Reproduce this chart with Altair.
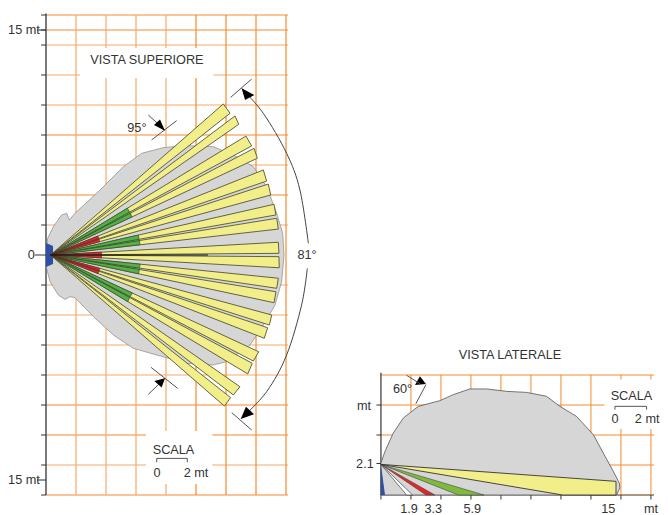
import altair as alt
import pandas as pd

# ---- all values in metres; the two views share one 15 px/m scale ----
APEX = (0.3, 0.0)
BEAM_ENDS = [
    (11.82, 10.07, 12.27, 9.45), (12.6, 9.27, 12.85, 8.71),
    (13.33, 7.93, 13.71, 7.27), (13.87, 7.11, 14.09, 6.45),
    (14.49, 5.67, 14.71, 4.93), (14.82, 4.73, 14.98, 4.0),
    (15.2, 3.38, 15.33, 2.67), (15.38, 2.45, 15.49, 1.73),
    (15.49, 0.85, 15.53, 0.11), (15.53, -0.11, 15.55, -0.85),
    (15.49, -1.55, 15.38, -2.22), (15.33, -2.45, 15.2, -3.18),
    (15.05, -4.0, 14.89, -4.67), (14.78, -4.85, 14.55, -5.55),
    (14.18, -6.45, 13.82, -7.07), (13.75, -7.22, 13.45, -7.93),
    (12.93, -8.78, 12.49, -9.33), (12.31, -9.51, 11.89, -10.07),
]
GREEN_BEAMS = [2, 3, 6, 7, 10, 11, 14, 15]
RED_BEAMS = [4, 5, 8, 9, 12, 13]
GREEN_RANGE = 6.0
RED_RANGE = 3.4
CENTRE_LINE = [APEX, (10.8, 0)]

TOP_BLOB = [
    (0.04, 0.11), (0.11, 1.11), (0.49, 1.89), (1.04, 2.67), (1.38, 2.78), (1.56, 2.33),
    (1.93, 2.78), (3.6, 4.33), (5.16, 5.89), (6.38, 6.78), (7.82, 7.16), (9.38, 7.29),
    (11.16, 7.22), (12.49, 6.67), (13.82, 5.89), (14.71, 4.56), (15.38, 2.78), (15.78, 1.44),
    (15.87, 0), (15.71, -1.78), (15.27, -3.33), (14.49, -4.67), (13.6, -6.0), (12.04, -7.11),
    (11.16, -7.33), (9.38, -7.22), (7.38, -6.67), (5.82, -6.22), (4.49, -5.33), (3.16, -4.11),
    (1.93, -2.84), (1.6, -2.78), (1.27, -2.96), (0.82, -2.67), (0.27, -1.78), (0.04, -0.89),
]
TOP_BLUE = [(0, 0.8), (0.47, 0.6), (0.47, -0.6), (0, -0.8)]

# side view, local metres, placed with this offset in the shared scale
DX, DY = 22.33, -16.0
SIDE_APEX = (0.0, 2.04)
SIDE_BLOB = [
    (0, 2.13), (0.27, 2.91), (0.82, 4.13), (1.49, 5.13), (2.49, 5.91), (3.93, 6.29),
    (4.82, 6.69), (5.93, 7.07), (7.04, 7.07), (8.38, 6.91), (9.71, 6.84), (11.04, 6.58),
    (11.93, 5.91), (13.04, 5.24), (14.16, 4.02), (14.82, 2.8), (15.49, 1.58), (15.89, 0.8),
    (15.93, 0.47), (15.71, 0), (0, 0),
]
SIDE_YELLOW = [SIDE_APEX, (15.67, 0.91), (15.67, 0), (12.11, 0)]
SIDE_GREEN = [SIDE_APEX, (5.16, 0), (6.87, 0)]
SIDE_RED = [SIDE_APEX, (3.0, 0), (3.6, 0)]
SIDE_WHITE = [SIDE_APEX, (1.71, 0), (2.11, 0)]
SIDE_BLUE = [SIDE_APEX, (0, 0), (0.27, 0)]

TOP_H_DARK = [16, 15, 8, 4, -12, -10, -16]
TOP_H_LIGHT = [14, 12, 10, 6, 2, -2, -4, -6, -8, -14]
TOP_V_DARK = [10, 12, 14, 16]
TOP_V_LIGHT = [2, 4, 6, 8]
TOP_TICKS = [16, 15, 14, 12, 10, 8, 6, 4, 2, -2, -4, -6, -8, -10, -12, -14, -16]
SIDE_V = [2, 4, 6, 8, 10, 12, 14, 16, 18]
SIDE_H = [2, 4, 6, 8]
SIDE_X_TICKS = [0, 2, 4, 6, 8, 10, 12, 14, 16, 18]
SIDE_Y_TICKS = [2.1, 4, 6]

ARC_UP = [(13.04, 11.11), (14.49, 9.44), (16.04, 6.78), (16.93, 4.33), (17.49, 0.78)]
ARC_DOWN = [(17.42, -0.89), (17.04, -3.33), (16.04, -6.67), (14.71, -9.11), (13.04, -10.89)]
ANNOT_LINES = [
    [(12.31, 10.51), (13.71, 11.73)], [(12.38, -10.51), (13.71, -11.67)],
    [(7.04, 7.67), (8.71, 8.96)], [(6.82, 9.33), (7.93, 8.33)],
    [(7.0, -7.49), (8.78, -8.89)], [(6.82, -9.29), (7.93, -8.22)],
]
ANNOT_TRIS = [
    [(7.93, 8.29), (7.2, 8.67), (7.6, 9.04)],
    [(7.93, -8.22), (7.22, -8.4), (7.71, -8.84)],
    [(13.04, 11.11), (13.89, 10.67), (13.27, 10.33)],
    [(12.98, -10.93), (13.87, -10.62), (13.33, -10.11)],
]
SIDE_LINES = [[(1.71, 7.98), (2.6, 7.42)], [(3.0, 7.36), (2.33, 6.09)]]
SIDE_TRI = [(2.6, 7.91), (2.27, 7.33), (3.0, 7.4)]
SCALE_TOP = [(7.38, -13.82), (7.38, -13.56), (9.42, -13.56), (9.42, -13.82)]
SCALE_SIDE = [(15.6, 5.69), (15.6, 5.91), (17.71, 5.91), (17.71, 5.69)]

TEXTS = [
    ("15 mt", -1.47, 15.0), ("15 mt", -1.47, -15.0),
    ("0", -0.98, 0),
    ("VISTA SUPERIORE", 6.73, 13.0),
    ("95°", 6.06, 8.5), ("81°", 17.4, 0),
    ("SCALA", 8.5, -13.0),
    ("0", 7.4, -14.5), ("2 mt", 10.0, -14.5),
    ("VISTA LATERALE", 8.6 + DX, 9.35 + DY),
    ("60°", 1.44 + DX, 7.07 + DY),
    ("mt", -1.13 + DX, 5.95 + DY),
    ("2.1", -1.07 + DX, 2.1 + DY),
    ("SCALA", 16.7 + DX, 6.6 + DY),
    ("0", 15.6 + DX, 5.07 + DY), ("2 mt", 17.75 + DX, 5.07 + DY),
    ("1.9", 1.87 + DX, -0.93 + DY), ("3.3", 3.49 + DX, -0.93 + DY),
    ("5.9", 6.09 + DX, -0.93 + DY), ("15", 15.16 + DX, -0.93 + DY),
    ("mt", 18.0 + DX, -0.93 + DY),
]

MASKS = [
    (2.27, 11.16, 11.8, 13.8),
    (6.67, 11.09, -15.27, -11.73),
    (14.9 + DX, 19.3 + DX, 4.4 + DY, 7.7 + DY),
]

ORANGE_D, ORANGE_L = "#f58a2e", "#f9a868"
DARK, GRAY, YELLOW = "#333333", "#d6d6d6", "#f2ee8a"
GREEN, RED, BLUE = "#55b045", "#e3262c", "#2f4fa5"

WIDTH, HEIGHT = 653, 507
PX = 15.0
x_scale = alt.Scale(domain=[-38 / PX, (WIDTH - 38) / PX], nice=False, zero=False)
y_scale = alt.Scale(domain=[-(HEIGHT - 247) / PX, 247 / PX], nice=False, zero=False)
X = alt.X("x:Q", scale=x_scale, axis=None)
Y = alt.Y("y:Q", scale=y_scale, axis=None)


def table(shapes):
    return pd.DataFrame(
        [{"id": i, "o": j, "x": p[0], "y": p[1]} for i, s in enumerate(shapes) for j, p in enumerate(s)]
    )


def shift(points):
    return [(p[0] + DX, p[1] + DY) for p in points]


def lines(shapes, color, width=1.0, interpolate="linear"):
    return alt.Chart(table(shapes)).mark_line(
        stroke=color, strokeWidth=width, interpolate=interpolate, clip=False
    ).encode(x=X, y=Y, detail="id:N", order="o:Q")


def polys(shapes, fill, stroke=None, width=0.8):
    kw = {"stroke": stroke, "strokeWidth": width} if stroke else {"strokeWidth": 0, "stroke": fill}
    return alt.Chart(table(shapes)).mark_line(
        fill=fill, interpolate="linear-closed", clip=False, **kw
    ).encode(x=X, y=Y, detail="id:N", order="o:Q")


def near(beam, dist):
    ax, ay = APEX
    x1, y1, x2, y2 = beam
    r = dist / (((x1 + x2) / 2 - ax) ** 2 + ((y1 + y2) / 2 - ay) ** 2) ** 0.5
    return [APEX, (ax + (x1 - ax) * r, ay + (y1 - ay) * r), (ax + (x2 - ax) * r, ay + (y2 - ay) * r)]


grid = [
    lines([[(0, v), (16.13, v)] for v in TOP_H_LIGHT], ORANGE_L, 1.2),
    lines([[(0, v), (16.13, v)] for v in TOP_H_DARK], ORANGE_D, 1.2),
    lines([[(v, -16), (v, 16)] for v in TOP_V_LIGHT], ORANGE_L, 1.2),
    lines([[(v, -16), (v, 16)] for v in TOP_V_DARK], ORANGE_D, 1.2),
    lines([shift([(v, 0), (v, 8)]) for v in SIDE_V], ORANGE_D, 1.0),
    lines([shift([(0, v), (18.2, v)]) for v in SIDE_H], ORANGE_D, 1.0),
    lines([shift([(14, 0), (18.2, 0)])], ORANGE_D, 1.0),
]

mask = alt.Chart(pd.DataFrame(MASKS, columns=["x", "x2", "y", "y2"])).mark_rect(color="white").encode(
    x=X, x2="x2:Q", y=Y, y2="y2:Q"
)

axes = [
    lines([[(0, -16), (0, 16.1)]], DARK, 1.3),
    lines([[(-0.33, v), (0, v)] for v in TOP_TICKS], DARK, 1.0),
    lines([[(-0.75, 0), (0, 0)], [(-0.6, 15), (0, 15)], [(-0.6, -15), (0, -15)]], DARK, 1.0),
    lines([shift([(0, 0), (0, 8.15)])], DARK, 1.2),
    lines([shift([(0, 0), (18.2, 0)])], "#666666", 1.0),
    lines([shift([(v, -0.3), (v, 0)]) for v in SIDE_X_TICKS], DARK, 1.0),
    lines([shift([(-0.3, v), (0, v)]) for v in SIDE_Y_TICKS], DARK, 1.0),
]

shapes = [
    polys([TOP_BLOB], GRAY, "#777777", 0.6),
    polys([TOP_BLUE], BLUE),
    polys([[APEX, (b[0], b[1]), (b[2], b[3])] for b in BEAM_ENDS], YELLOW, "#555533", 0.9),
    polys([near(BEAM_ENDS[i], GREEN_RANGE) for i in GREEN_BEAMS], GREEN, "#2f4f28", 0.7),
    polys([near(BEAM_ENDS[i], RED_RANGE) for i in RED_BEAMS], RED, "#552222", 0.6),
    lines([CENTRE_LINE], "#111111", 1.0),
    polys([shift(SIDE_BLOB)], GRAY, "#555555", 0.8),
    polys([shift(SIDE_WHITE)], "white", "#444444", 0.7),
    polys([shift(SIDE_RED)], RED, "#444444", 0.6),
    polys([shift(SIDE_GREEN)], "#7cbb3c", "#444444", 0.6),
    polys([shift(SIDE_YELLOW)], YELLOW, "#333333", 0.9),
    polys([shift(SIDE_BLUE)], BLUE),
]

notes = [
    lines([ARC_UP, ARC_DOWN], "#444444", 1.0, "cardinal"),
    lines(ANNOT_LINES, "#555555", 1.0),
    polys(ANNOT_TRIS + [shift(SIDE_TRI)], "black"),
    lines([shift(s) for s in SIDE_LINES], "#555555", 1.0),
    lines([SCALE_TOP, shift(SCALE_SIDE)], "#555555", 1.0),
]

text = alt.Chart(pd.DataFrame(TEXTS, columns=["t", "x", "y"])).mark_text(
    font="Liberation Sans", fontSize=12.7, color="#333333", baseline="middle", align="center", clip=False
).encode(x=X, y=Y, text="t:N")

chart = alt.layer(*grid, mask, *axes, *shapes, *notes, text).properties(
    width=WIDTH, height=HEIGHT, padding=0, autosize=alt.AutoSizeParams(type="none")
).configure_view(stroke=None)

chart.save("out.html", embed_options={"renderer": "svg", "actions": False})
